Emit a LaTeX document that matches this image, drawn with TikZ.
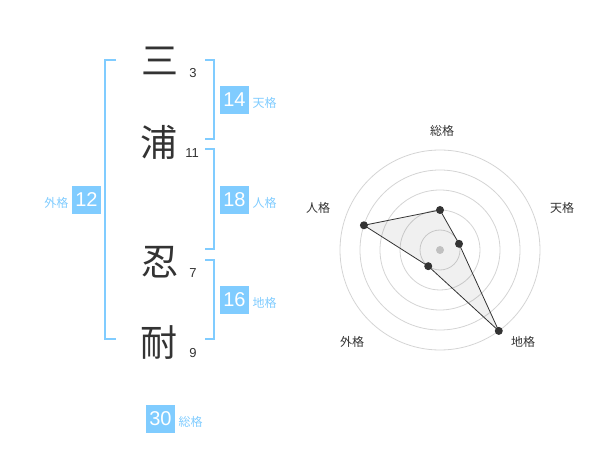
\documentclass[tikz,border=0pt]{standalone}
\usepackage{fontspec}
\setmainfont{Liberation Sans}
\newfontfamily\jpfont{Noto Sans CJK JP}
\usetikzlibrary{positioning}
\definecolor{kakublue}{HTML}{80CCFF}
\definecolor{inkgray}{HTML}{333333}
\tikzset{
  kanji/.style={font=\jpfont\fontsize{37}{37}\selectfont, text=inkgray},
  strokes/.style={font=\fontsize{13}{13}\selectfont, text=inkgray},
  kakubox/.style={fill=kakublue, text=white, minimum width=29pt, minimum height=28pt, inner sep=0pt, font=\fontsize{20}{20}\selectfont},
  kakulabel/.style={text=kakublue, font=\jpfont\fontsize{12}{12}\selectfont, yshift=-3pt},
  radarlabel/.style={text=inkgray, font=\jpfont\fontsize{12}{12}\selectfont},
  bracket/.style={draw=kakublue, line width=2pt},
}
\begin{document}
\begin{tikzpicture}[x=1pt,y=-1pt]
    \useasboundingbox (0,0) rectangle (600,470);

    % name and strokes
    \node[kanji] (c1) at (160,61) {三};
    \node[kanji] (c2) at (159,142) {浦};
    \node[kanji] (c3) at (160,262) {忍};
    \node[kanji] (c4) at (159,343) {耐};
    \node[strokes] (s1) at (193,73) {3};
    \node[strokes] (s2) at (192,153) {11};
    \node[strokes] (s3) at (193,273) {7};
    \node[strokes] (s4) at (193,353) {9};

    % brackets
    \draw[bracket] (116,60) -- (105,60) -- (105,339) -- (116,339);
    \foreach \ya/\yb in {60/139, 149/249, 260/339} {
        \draw[bracket] (205,\ya) -- (214,\ya) -- (214,\yb) -- (205,\yb);
    }

    % scores
    \node[kakubox] (ten) at (234.5,100) {14};
    \node[kakulabel, right=0pt of ten] (tenlabel) {天格};
    \node[kakubox] (jin) at (234.5,200) {18};
    \node[kakulabel, right=0pt of jin] (jinlabel) {人格};
    \node[kakubox] (chi) at (234.5,300) {16};
    \node[kakulabel, right=0pt of chi] (chilabel) {地格};
    \node[kakubox] (gai) at (86.5,200) {12};
    \node[kakulabel, left=0pt of gai] (gailabel) {外格};
    \node[kakubox] (sou) at (160.5,419) {30};
    \node[kakulabel, right=0pt of sou] (soulabel) {総格};

    % radar
    \begin{scope}[shift={(440,250)}, y=1pt]
        \foreach \r in {20,40,...,100} {
            \draw[black!17, line width=0.8pt] (0,0) circle (\r);
        }
        \fill[black!20] (0,0) circle (4);
        \coordinate (psou) at (90:40);
        \coordinate (pten) at (18:20);
        \coordinate (pchi) at (-54:100);
        \coordinate (pgai) at (-126:20);
        \coordinate (pjin) at (162:80);
        \draw[inkgray, line width=0.8pt, fill=black, fill opacity=0.06]
            (psou) -- (pten) -- (pchi) -- (pgai) -- (pjin) -- cycle;
        \foreach \p in {psou, pten, pchi, pgai, pjin} {
            \fill[inkgray] (\p) circle (4);
        }
        \node[radarlabel] (lsou) at (2,119) {総格};
        \node[radarlabel] (lten) at (122,42) {天格};
        \node[radarlabel] (lchi) at (83,-92) {地格};
        \node[radarlabel] (lgai) at (-88,-92) {外格};
        \node[radarlabel] (ljin) at (-122,42) {人格};
    \end{scope}
\end{tikzpicture}
\end{document}
